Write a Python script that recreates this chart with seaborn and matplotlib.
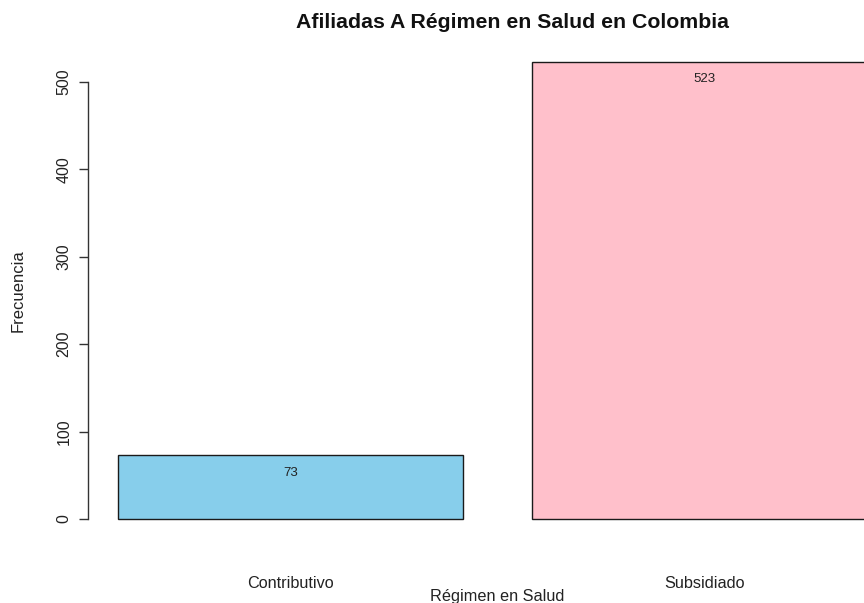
import matplotlib
matplotlib.use("Agg")
import matplotlib.pyplot as plt
import seaborn as sns
import pandas as pd

categories = ["Contributivo", "Subsidiado"]
values = [73, 523]
colors = ["#87CEEB", "#FFC0CB"]
yticks = [0, 100, 200, 300, 400, 500]

title = "Afiliadas A Régimen en Salud en Colombia"
xlabel = "Régimen en Salud"
ylabel = "Frecuencia"

sns.set_theme(style="white")
plt.rcParams['font.family'] = ['Liberation Sans', 'DejaVu Sans']

W, H = 864, 603
fig = plt.figure(figsize=(W / 100, H / 100), dpi=100)
left_px, top_px, bottom_px = 87.6, 43.6, 537.3
ax = fig.add_axes([left_px / W, (H - bottom_px) / H, 1 - left_px / W, (bottom_px - top_px) / H])

df = pd.DataFrame({"cat": categories, "val": values})
sns.barplot(data=df, x="cat", y="val", hue="cat", palette=colors, width=1 / 1.2,
            edgecolor="#1a1a1a", linewidth=1.0, legend=False, ax=ax, saturation=1)

ax.set_xlim(-0.490, 1.385)
ax.set_ylim(-20.92, 543.92)

for s in ["top", "right", "bottom"]:
    ax.spines[s].set_visible(False)
ax.spines["left"].set_bounds(0, 500)
ax.spines["left"].set_color("#333333")
ax.spines["left"].set_linewidth(1.0)

ax.set_yticks(yticks)
ax.set_yticklabels([str(t) for t in yticks], rotation=90, va="center", fontsize=11.5, color="#222222")
ax.tick_params(axis="y", left=True, length=6.5, width=1.0, color="#333333", pad=5)
ax.tick_params(axis="x", bottom=False, labelsize=11.7, labelcolor="#222222", pad=22)

for i, v in enumerate(values):
    ax.text(i, v - 20, str(v), ha="center", va="center", fontsize=9.5, color="#222222")

ax.set_xlabel("")
ax.set_ylabel("")
fig.text(497 / W, 1 - 596 / H, xlabel, ha="center", va="center", fontsize=11.7, color="#222222")
fig.text(18 / W, 1 - 291 / H, ylabel, ha="center", va="center", rotation=90, fontsize=12, color="#222222")
fig.text(513 / W, 1 - 22 / H, title, ha="center", va="center", fontsize=15.3, fontweight="bold", color="#111111")

fig.savefig("out.png", dpi=100)
